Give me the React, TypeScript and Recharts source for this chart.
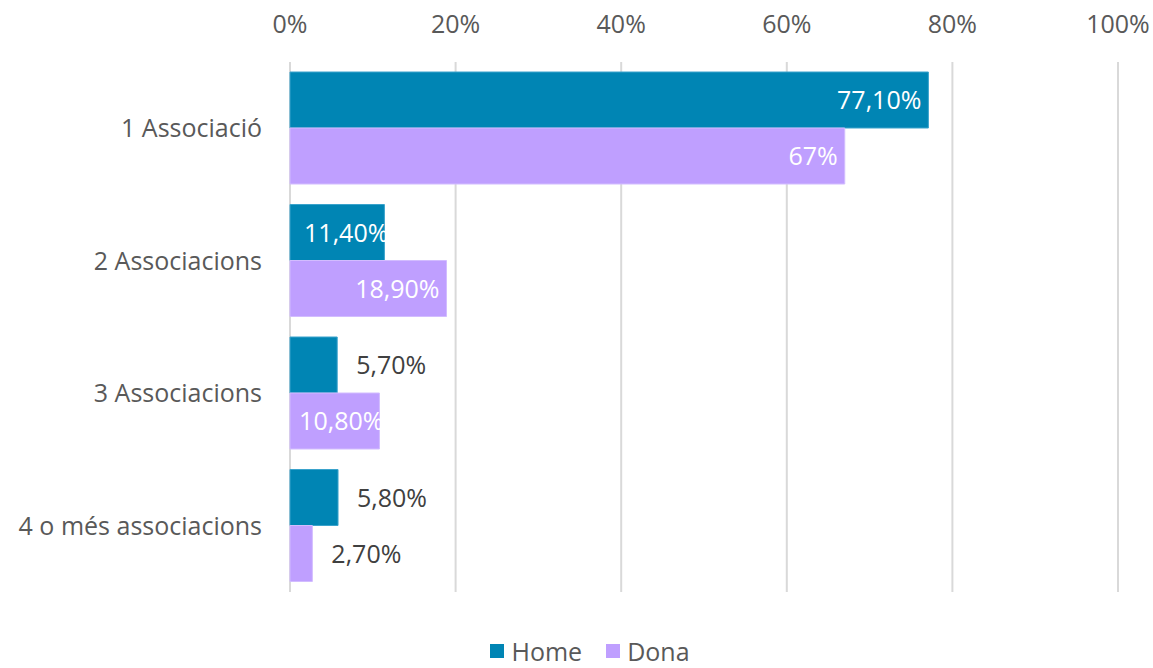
import { BarChart, Bar, XAxis, YAxis, CartesianGrid, Legend, LabelList } from 'recharts'

const categories = ['1 Associació', '2 Associacions', '3 Associacions', '4 o més associacions']
const homeValues = [77.1, 11.4, 5.7, 5.8]
const donaValues = [67, 18.9, 10.8, 2.7]
const homeLabels = ['77,10%', '11,40%', '5,70%', '5,80%']
const donaLabels = ['67%', '18,90%', '10,80%', '2,70%']
const xTicks = [0, 20, 40, 60, 80, 100]

const HOME = '#0085B4'
const DONA = '#BF9FFF'
const FONT = '"Open Sans", sans-serif'
const FS = 25

const data = categories.map((c, i) => ({
  name: c,
  home: homeValues[i],
  dona: donaValues[i],
}))

function makeLabel(texts: string[]) {
  return (props: any) => {
    const { x, y, width, height, index, value } = props
    const txt = texts[index]
    const cy = y + height / 2
    if (value >= 10) {
      const pad = width > 120 ? 7 : -4
      return (
        <text x={x + width - pad} y={cy} dy="0.36em" textAnchor="end" fill="#fff"
          fontSize={FS} fontFamily={FONT}>{txt}</text>
      )
    }
    return (
      <text x={x + width + 19} y={cy} dy="0.36em" textAnchor="start" fill="#404040"
        fontSize={FS} fontFamily={FONT}>{txt}</text>
    )
  }
}

function LegendContent() {
  const items = [{ label: 'Home', color: HOME }, { label: 'Dona', color: DONA }]
  return (
    <div style={{ display: 'flex', justifyContent: 'center', gap: 24, fontFamily: FONT, fontSize: FS, color: '#595959', lineHeight: '28px', height: 28 }}>
      {items.map((it) => (
        <div key={it.label} style={{ display: 'flex', alignItems: 'center', gap: 7 }}>
          <span style={{ width: 14, height: 14, background: it.color, display: 'inline-block' }} />
          <span>{it.label}</span>
        </div>
      ))}
    </div>
  )
}

export default function App() {
  return (
    <div style={{ position: 'absolute', left: 0, top: 0, background: '#fff' }}>
      <BarChart width={1153} height={668} data={data} layout="vertical"
        margin={{ top: 22, right: 35, left: 0, bottom: 48 }} barGap={0} barSize={56}>
        <CartesianGrid horizontal={false} stroke="#D9D9D9" strokeWidth={2} />
        <XAxis type="number" orientation="top" domain={[0, 100]} ticks={xTicks}
          tickFormatter={(v) => `${v}%`} axisLine={false} tickLine={false} tickSize={0}
          tickMargin={29} height={40} interval={0}
          tick={{ fontSize: FS, fill: '#595959', fontFamily: FONT }} />
        <YAxis type="category" dataKey="name" axisLine={false} tickLine={false} tickSize={0}
          tickMargin={28} width={290}
          tick={{ fontSize: FS, fill: '#595959', fontFamily: FONT }} />
        <Legend verticalAlign="bottom" content={<LegendContent />}
          wrapperStyle={{ left: 0, width: 1180, height: 28, top: 637, bottom: 'auto' }} />
        <Bar dataKey="home" name="Home" fill={HOME} stroke="#3aa3cc" strokeWidth={1} isAnimationActive={false}>
          <LabelList dataKey="home" content={makeLabel(homeLabels)} />
        </Bar>
        <Bar dataKey="dona" name="Dona" fill={DONA} stroke="#d2bcff" strokeWidth={1} isAnimationActive={false}>
          <LabelList dataKey="dona" content={makeLabel(donaLabels)} />
        </Bar>
      </BarChart>
    </div>
  )
}
